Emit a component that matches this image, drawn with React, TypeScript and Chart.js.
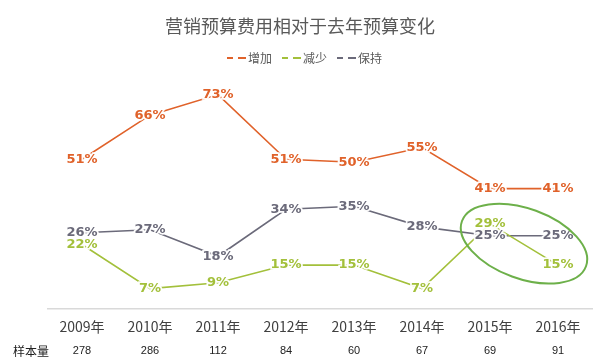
import React, { useEffect, useRef } from 'react';
import { Chart, registerables } from 'chart.js';

Chart.register(...registerables);

const chartTitle = '营销预算费用相对于去年预算变化';
const years = ['2009年', '2010年', '2011年', '2012年', '2013年', '2014年', '2015年', '2016年'];
const sampleLabel = '样本量';
const sampleSizes = [278, 286, 112, 84, 60, 67, 69, 91];
const seriesNames = ['增加', '减少', '保持'];
const increase = [51, 66, 73, 51, 50, 55, 41, 41];
const decrease = [22, 7, 9, 15, 15, 7, 29, 15];
const keep = [26, 27, 18, 34, 35, 28, 25, 25];

const COLORS = ['#E0622A', '#A3C03B', '#6B6A7A'];
const CJK = '"Noto Sans CJK SC", "Noto Sans", sans-serif';

const overlayPlugin = {
  id: 'overlay',
  afterDatasetsDraw(chart: any) {
    const ctx = chart.ctx;
    const x = chart.scales.x;
    const W = chart.width;
    // data labels
    ctx.save();
    ctx.font = 'bold 13px "DejaVu Sans", Verdana, sans-serif';
    ctx.textAlign = 'center';
    ctx.textBaseline = 'middle';
    chart.data.datasets.forEach((ds: any, di: number) => {
      const meta = chart.getDatasetMeta(di);
      meta.data.forEach((pt: any, i: number) => {
        const txt = ds.data[i] + '%';
        ctx.lineWidth = 3.5;
        ctx.strokeStyle = 'rgba(255,255,255,0.95)';
        ctx.strokeText(txt, pt.x, pt.y);
        ctx.fillStyle = ds.borderColor;
        ctx.fillText(txt, pt.x, pt.y);
      });
    });
    ctx.restore();

    // title
    ctx.save();
    ctx.font = '18px ' + CJK;
    ctx.fillStyle = '#595959';
    ctx.textAlign = 'center';
    ctx.textBaseline = 'middle';
    ctx.fillText(chartTitle, W / 2, 26);
    ctx.restore();

    // legend
    ctx.save();
    ctx.font = '12px ' + CJK;
    ctx.textBaseline = 'middle';
    const ly = 58;
    let lx = 227;
    chart.data.datasets.forEach((ds: any, di: number) => {
      ctx.strokeStyle = ds.borderColor;
      ctx.lineWidth = 2;
      ctx.beginPath();
      ctx.moveTo(lx, ly); ctx.lineTo(lx + 6, ly);
      ctx.moveTo(lx + 11, ly); ctx.lineTo(lx + 19, ly);
      ctx.stroke();
      ctx.fillStyle = '#595959';
      ctx.textAlign = 'left';
      ctx.fillText(seriesNames[di], lx + 21, ly);
      lx += 21 + ctx.measureText(seriesNames[di]).width + 10;
    });
    ctx.restore();

    // sample sizes row
    ctx.save();
    ctx.fillStyle = '#222222';
    ctx.textBaseline = 'middle';
    ctx.font = '12px ' + CJK;
    ctx.textAlign = 'left';
    ctx.fillText(sampleLabel, 13, 351);
    ctx.textAlign = 'center';
    ctx.font = '11px "Liberation Sans", Arial, sans-serif';
    sampleSizes.forEach((v, i) => {
      ctx.fillText(String(v), x.getPixelForValue(i), 351);
    });
    ctx.restore();

    // highlight ellipse
    const y = chart.scales.y;
    const cx = (x.getPixelForValue(6) + x.getPixelForValue(7)) / 2;
    const cy = y.getPixelForValue(22.3);
    ctx.save();
    ctx.strokeStyle = '#6DB04A';
    ctx.lineWidth = 2;
    ctx.beginPath();
    ctx.ellipse(cx, cy, 66, 35, 0.35, 0, Math.PI * 2);
    ctx.stroke();
    ctx.restore();
  },
};

export default function App() {
  const ref = useRef<HTMLCanvasElement | null>(null);
  useEffect(() => {
    if (!ref.current) return;
    const mk = (label: string, data: number[], color: string) => ({
      label,
      data,
      borderColor: color,
      backgroundColor: color,
      borderWidth: 1.6,
      pointRadius: 0,
      tension: 0,
      fill: false,
    });
    const chart = new Chart(ref.current, {
      type: 'line',
      data: {
        labels: years,
        datasets: [
          mk(seriesNames[0], increase, COLORS[0]),
          mk(seriesNames[1], decrease, COLORS[1]),
          mk(seriesNames[2], keep, COLORS[2]),
        ],
      },
      options: {
        animation: false,
        responsive: false,
        maintainAspectRatio: false,
        layout: { padding: { top: 74, left: 48, right: 8, bottom: 19 } },
        plugins: {
          legend: { display: false },
          title: { display: false },
          tooltip: { enabled: false },
        },
        scales: {
          x: {
            offset: true,
            grid: { display: false, drawTicks: false },
            border: { display: true, color: '#D9D9D9', width: 1.5 },
            ticks: {
              color: '#404040',
              font: { size: 14, family: CJK },
              padding: 9,
              maxRotation: 0,
              autoSkip: false,
            },
          },
          y: {
            display: false,
            min: 0,
            max: 80,
          },
        },
      },
      plugins: [overlayPlugin],
    });
    return () => chart.destroy();
  }, []);
  return (
    <div style={{ position: 'fixed', left: 0, top: 0, width: 600, height: 363, background: '#fff' }}>
      <canvas ref={ref} width={600} height={363} style={{ width: 600, height: 363, display: 'block' }} />
    </div>
  );
}
